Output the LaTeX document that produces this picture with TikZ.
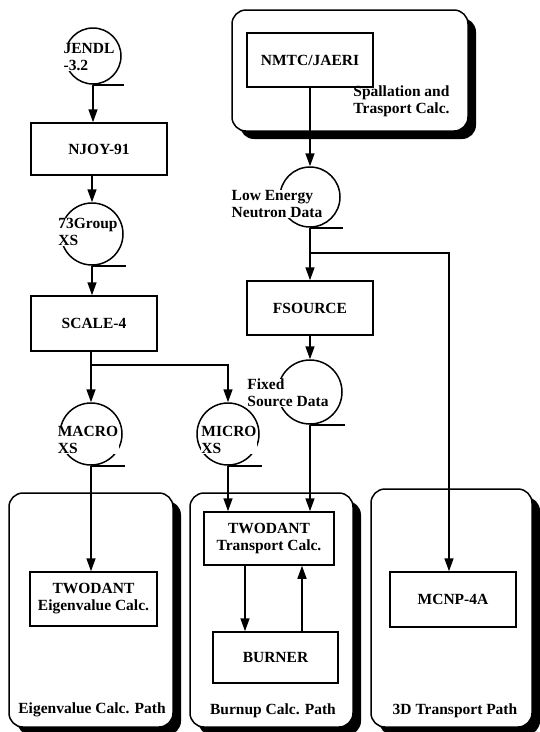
\documentclass[tikz,border=0pt]{standalone}
\usepackage{fontspec}
\setmainfont{Liberation Serif}
\usetikzlibrary{arrows.meta}
\newcommand\dgf{\fontsize{15.5}{17}\selectfont\bfseries}
\begin{document}
\begin{tikzpicture}[x=1pt,y=-1pt,
  lw/.style={line width=1.5pt},
  box/.style={draw,lw,rectangle,inner sep=0pt,align=center,font=\dgf},
  circ/.style={draw,lw,circle,inner sep=0pt},
  ctext/.style={align=left,font=\dgf,inner sep=0.5pt,fill=white},
  ptext/.style={align=left,font=\dgf,inner sep=0pt},
  panel/.style={draw,lw,rectangle,rounded corners=14pt,fill=white,
    preaction={draw=none,fill=black,transform canvas={xshift=8pt,yshift=-8pt}}},
  arr/.style={lw,-{Triangle[length=13pt,width=9pt]}}]
\useasboundingbox (0,0) rectangle (539,732);
\fill[white] (0,0) rectangle (539,732);
% panels
\node[panel,minimum width=236pt,minimum height=121pt] (ptop) at (350,70.5) {};
\node[panel,minimum width=164pt,minimum height=234pt] (peig) at (91,610) {};
\node[panel,minimum width=163pt,minimum height=234pt] (pbu) at (271.5,610) {};
\node[panel,minimum width=161pt,minimum height=238pt] (p3d) at (451.5,608) {};
\node[ptext] (lspall) at (401.5,101) {Spallation and\\Trasport Calc.};
\node[ptext] (leig) at (92,710) {Eigenvalue Calc. Path};
\node[ptext] (lbu) at (273,711) {Burnup Calc. Path};
\node[ptext] (l3d) at (455,711) {3D Transport Path};
% boxes
\node[box,minimum width=136pt,minimum height=52pt] (njoy) at (99,149) {NJOY-91};
\node[box,minimum width=126pt,minimum height=55pt] (scale) at (94,323.5) {SCALE-4};
\node[box,minimum width=126pt,minimum height=54pt] (nmtc) at (310,60) {NMTC/JAERI};
\node[box,minimum width=126pt,minimum height=54pt] (fsource) at (310,308) {FSOURCE};
\node[box,minimum width=127pt,minimum height=54pt] (eig) at (93.5,599) {TWODANT\\Eigenvalue Calc.};
\node[box,minimum width=130pt,minimum height=53pt] (tr) at (269,538.5) {TWODANT\\Transport Calc.};
\node[box,minimum width=125pt,minimum height=51pt] (burner) at (275.5,657.5) {BURNER};
\node[box,minimum width=126pt,minimum height=55pt] (mcnp) at (453,599.5) {MCNP-4A};
% circles
\node[circ,minimum size=56pt] (jendl) at (93,56) {};
\node[circ,minimum size=62pt] (g73) at (92,234) {};
\node[circ,minimum size=62pt] (macro) at (91,434) {};
\node[circ,minimum size=62pt] (micro) at (228,434) {};
\node[circ,minimum size=60pt] (lowe) at (310,197) {};
\node[circ,minimum size=64pt] (fixed) at (310,392) {};
\draw[lw] (jendl.south) -- ++(31,0);
\draw[lw] (g73.south) -- ++(34,0);
\draw[lw] (macro.south) -- ++(34,0);
\draw[lw] (micro.south) -- ++(34,0);
\draw[lw] (lowe.south) -- ++(33,0);
\draw[lw] (fixed.south) -- ++(35,0);
\node[ctext] (tjendl) at (89,57) {JENDL\\-3.2};
\node[ctext] (tg73) at (88,232) {73Group\\XS};
\node[ctext] (tmacro) at (88,440) {MACRO\\XS};
\node[ctext] (tmicro) at (229,440) {MICRO\\XS};
\node[ctext] (tlowe) at (277,204) {Low Energy\\Neutron Data};
\node[ctext] (tfixed) at (288,393) {Fixed\\Source Data};
% connectors
\draw[arr] (jendl.south) -- (jendl.south |- njoy.north);
\draw[arr] (g73.north |- njoy.south) -- (g73.north);
\draw[arr] (g73.south) -- (g73.south |- scale.north);
\coordinate (split) at (91,365);
\draw[arr] (macro.north |- scale.south) -- (macro.north);
\draw[arr] (split) -| (micro.north);
\draw[arr] (macro.south) -- (macro.south |- eig.north);
\draw[arr] (micro.south) -- (micro.south |- tr.north);
\draw[arr] (nmtc.south) -- (lowe.north);
\coordinate (junc) at (310,253);
\draw[lw] (lowe.south) -- (junc);
\draw[arr] (junc) -- (fsource.north);
\draw[arr] (junc) -| ([xshift=-4pt]mcnp.north);
\draw[arr] (fsource.south) -- (fixed.north);
\draw[arr] (fixed.south) -- (fixed.south |- tr.north);
\draw[arr] ([xshift=-24pt]tr.south) -- ([xshift=-24pt]tr.south |- burner.north);
\draw[arr] ([xshift=33pt]tr.south |- burner.north) -- ([xshift=33pt]tr.south);
\end{tikzpicture}
\end{document}
